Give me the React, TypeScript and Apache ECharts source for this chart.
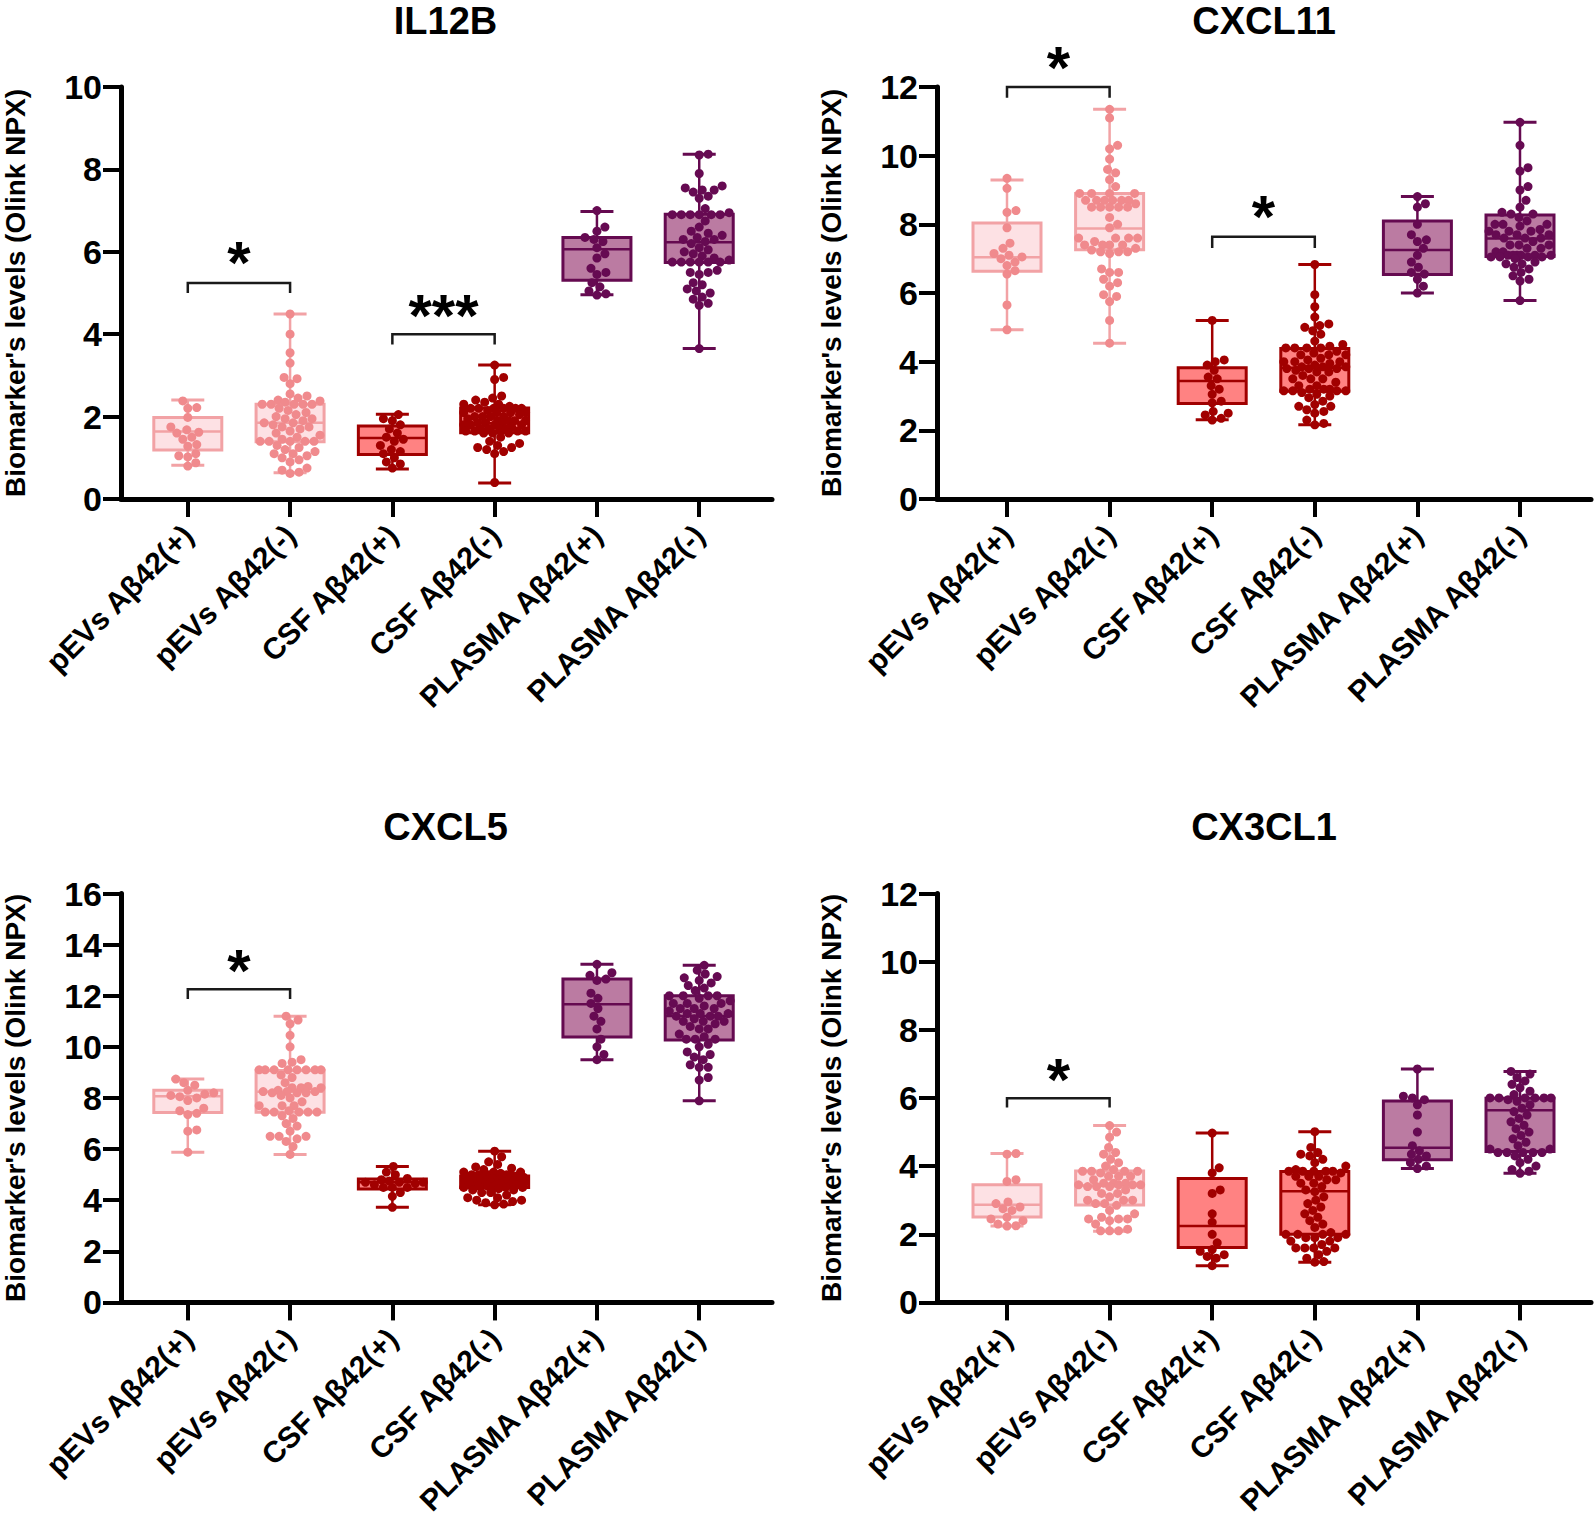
import React, { useEffect, useRef } from 'react';
import * as echarts from 'echarts';

// ---------- categories / labels ----------
const CATEGORIES = ['pEVs Aβ42(+)', 'pEVs Aβ42(-)', 'CSF Aβ42(+)', 'CSF Aβ42(-)', 'PLASMA Aβ42(+)', 'PLASMA Aβ42(-)'];
const TITLES = ['IL12B', 'CXCL11', 'CXCL5', 'CX3CL1'];
const Y_NAME = "Biomarker's levels (Olink NPX)";
const Y_MAX = [10, 12, 16, 12];
const TICK_INDEX = [0, 1, 2, 3, 4, 5];

// ---------- box statistics [min, Q1, median, Q3, max] ----------
const il12bBox = [[0.82, 1.19, 1.64, 1.98, 2.40], [0.64, 1.39, 1.85, 2.30, 4.49], [0.73, 1.08, 1.48, 1.77, 2.06], [0.39, 1.61, 1.84, 2.21, 3.25], [4.96, 5.31, 6.06, 6.35, 6.98], [3.65, 5.74, 6.23, 6.91, 8.37]];
const cxcl11Box = [[4.93, 6.63, 7.04, 8.04, 9.29], [4.54, 7.26, 7.88, 8.90, 11.35], [2.31, 2.78, 3.44, 3.82, 5.20], [2.16, 3.14, 3.82, 4.38, 6.83], [6.00, 6.54, 7.25, 8.10, 8.81], [5.78, 7.06, 7.59, 8.27, 10.97]];
const cxcl5Box = [[5.88, 7.43, 8.07, 8.30, 8.74], [5.79, 7.44, 8.24, 9.07, 11.20], [3.72, 4.44, 4.70, 4.83, 5.32], [3.82, 4.50, 4.76, 4.95, 5.92], [9.50, 10.39, 11.67, 12.65, 13.23], [7.89, 10.27, 11.21, 12.00, 13.19]];
const cx3cl1Box = [[2.24, 2.51, 2.87, 3.45, 4.37], [2.09, 2.86, 3.43, 3.86, 5.19], [1.08, 1.61, 2.24, 3.64, 4.97], [1.18, 2.00, 3.26, 3.84, 5.01], [3.93, 4.19, 4.54, 5.91, 6.85], [3.79, 4.43, 5.64, 5.99, 6.78]];

// ---------- individual points ----------
const il12bPevsPos = [2.38, 2.22, 2.2, 1.98, 1.75, 1.68, 1.62, 1.6, 1.5, 1.45, 1.32, 1.28, 1.1, 1.05, 1.02, 0.88, 0.8];
const il12bPevsNeg = [4.49, 4.0, 3.55, 3.3, 2.95, 2.92, 2.8, 2.55, 2.5, 2.45, 2.4, 2.38, 2.35, 2.3, 2.3, 2.3, 2.3, 2.3, 2.2, 2.15, 2.1, 2.05, 2.0, 1.95, 1.95, 1.9, 1.85, 1.85, 1.8, 1.75, 1.75, 1.7, 1.65, 1.6, 1.55, 1.5, 1.45, 1.4, 1.4, 1.4, 1.4, 1.4, 1.3, 1.25, 1.2, 1.15, 1.1, 1.1, 1.05, 1.0, 0.95, 0.9, 0.75, 0.7, 0.65, 0.62];
const il12bCsfPos = [2.05, 1.95, 1.9, 1.8, 1.7, 1.6, 1.5, 1.45, 1.4, 1.3, 1.2, 1.15, 1.1, 1.0, 0.9, 0.85, 0.75];
const il12bCsfNeg = [3.25, 2.95, 2.9, 2.5, 2.45, 2.4, 2.35, 2.3, 2.3, 2.25, 2.2, 2.2, 2.2, 2.2, 2.2, 2.2, 2.15, 2.1, 2.1, 2.1, 2.1, 2.05, 2.0, 2.0, 2.0, 2.0, 1.95, 1.9, 1.9, 1.9, 1.9, 1.85, 1.85, 1.85, 1.8, 1.8, 1.8, 1.8, 1.75, 1.7, 1.7, 1.7, 1.7, 1.65, 1.65, 1.65, 1.65, 1.6, 1.6, 1.6, 1.5, 1.4, 1.35, 1.3, 1.25, 1.25, 1.2, 1.15, 1.1, 0.4];
const il12bPlasmaPos = [7.0, 6.6, 6.5, 6.35, 6.3, 6.25, 6.1, 5.95, 5.85, 5.6, 5.5, 5.45, 5.25, 5.15, 5.05, 4.98, 4.95];
const il12bPlasmaNeg = [8.37, 8.35, 7.9, 7.6, 7.55, 7.5, 7.5, 7.45, 7.35, 7.3, 7.05, 6.95, 6.9, 6.9, 6.9, 6.9, 6.9, 6.9, 6.75, 6.6, 6.5, 6.45, 6.4, 6.35, 6.3, 6.3, 6.25, 6.2, 6.1, 6.05, 6.0, 5.95, 5.9, 5.85, 5.8, 5.75, 5.75, 5.75, 5.75, 5.75, 5.75, 5.55, 5.5, 5.5, 5.45, 5.25, 5.2, 5.1, 5.05, 5.0, 4.9, 4.85, 4.75, 4.7, 3.65];

const cxcl11PevsPos = [9.34, 9.05, 8.4, 8.35, 7.9, 7.45, 7.3, 7.15, 7.1, 7.05, 7.0, 6.9, 6.8, 6.65, 6.55, 5.65, 4.93];
const cxcl11PevsNeg = [11.35, 11.1, 10.3, 10.2, 9.9, 9.6, 9.5, 9.3, 9.1, 8.9, 8.9, 8.9, 8.9, 8.7, 8.7, 8.7, 8.7, 8.7, 8.7, 8.6, 8.5, 8.5, 8.5, 8.5, 8.5, 8.2, 8.0, 7.9, 7.6, 7.6, 7.6, 7.6, 7.5, 7.4, 7.4, 7.4, 7.4, 7.3, 7.25, 7.2, 7.2, 7.2, 7.15, 6.7, 6.6, 6.6, 6.4, 6.3, 6.2, 5.95, 5.9, 5.75, 5.2, 4.54];
const cxcl11CsfPos = [5.2, 4.05, 4.0, 3.9, 3.75, 3.55, 3.5, 3.3, 3.2, 3.05, 2.85, 2.8, 2.55, 2.5, 2.45, 2.35, 2.3];
const cxcl11CsfNeg = [6.83, 5.95, 5.6, 5.3, 5.1, 5.05, 5.0, 4.9, 4.8, 4.6, 4.5, 4.45, 4.4, 4.4, 4.4, 4.4, 4.3, 4.25, 4.2, 4.2, 4.2, 4.1, 4.05, 4.0, 4.0, 4.0, 3.95, 3.9, 3.85, 3.85, 3.85, 3.8, 3.8, 3.8, 3.75, 3.7, 3.7, 3.6, 3.5, 3.5, 3.5, 3.4, 3.3, 3.3, 3.2, 3.2, 3.2, 3.15, 3.15, 3.15, 3.15, 3.1, 3.05, 3.0, 2.95, 2.85, 2.75, 2.7, 2.7, 2.6, 2.55, 2.5, 2.3, 2.2, 2.16];
const cxcl11PlasmaPos = [8.81, 8.6, 8.5, 8.0, 7.7, 7.55, 7.5, 7.3, 7.1, 6.9, 6.75, 6.6, 6.55, 6.4, 6.2, 6.0];
const cxcl11PlasmaNeg = [10.97, 10.3, 9.65, 9.55, 9.1, 9.0, 8.7, 8.5, 8.35, 8.3, 8.3, 8.2, 8.1, 8.0, 8.0, 8.0, 7.95, 7.85, 7.8, 7.8, 7.8, 7.7, 7.7, 7.7, 7.6, 7.6, 7.6, 7.5, 7.4, 7.4, 7.4, 7.3, 7.3, 7.2, 7.2, 7.1, 7.1, 7.1, 7.1, 7.1, 7.1, 7.05, 7.05, 7.05, 7.05, 7.0, 6.9, 6.85, 6.85, 6.75, 6.7, 6.6, 6.5, 6.4, 6.35, 5.78];

const cxcl5PevsPos = [8.74, 8.6, 8.5, 8.3, 8.2, 8.15, 8.1, 8.05, 8.0, 7.9, 7.6, 7.5, 7.4, 7.35, 6.75, 6.7, 5.88];
const cxcl5PevsNeg = [11.2, 11.05, 10.9, 10.45, 10.0, 9.5, 9.4, 9.35, 9.1, 9.1, 9.1, 9.1, 9.1, 9.1, 9.1, 9.1, 8.9, 8.8, 8.6, 8.45, 8.4, 8.4, 8.4, 8.3, 8.25, 8.25, 8.25, 8.2, 8.2, 8.2, 8.1, 8.0, 7.85, 7.7, 7.7, 7.7, 7.5, 7.45, 7.45, 7.45, 7.45, 7.45, 7.3, 7.2, 7.0, 6.9, 6.7, 6.5, 6.5, 6.5, 6.4, 6.3, 6.1, 5.79];
const cxcl5CsfPos = [5.32, 5.1, 5.0, 4.85, 4.8, 4.75, 4.7, 4.7, 4.7, 4.65, 4.6, 4.5, 4.5, 4.5, 4.3, 4.15, 3.72];
const cxcl5CsfNeg = [5.92, 5.7, 5.5, 5.4, 5.3, 5.25, 5.2, 5.1, 5.1, 5.1, 5.05, 5.0, 5.0, 5.0, 5.0, 4.95, 4.95, 4.95, 4.9, 4.9, 4.9, 4.85, 4.85, 4.85, 4.8, 4.8, 4.8, 4.8, 4.75, 4.75, 4.75, 4.75, 4.7, 4.7, 4.7, 4.7, 4.65, 4.65, 4.65, 4.6, 4.6, 4.6, 4.55, 4.55, 4.55, 4.5, 4.5, 4.5, 4.45, 4.4, 4.4, 4.3, 4.3, 4.2, 4.1, 4.1, 4.0, 4.0, 3.95, 3.9, 3.85, 3.82];
const cxcl5PlasmaPos = [13.23, 12.9, 12.8, 12.65, 12.6, 12.1, 11.9, 11.7, 11.5, 11.2, 11.0, 10.7, 10.3, 10.0, 9.7, 9.5];
const cxcl5PlasmaNeg = [13.19, 13.0, 12.85, 12.75, 12.7, 12.6, 12.5, 12.4, 12.3, 12.2, 12.0, 12.0, 12.0, 12.0, 11.9, 11.8, 11.7, 11.7, 11.7, 11.6, 11.5, 11.5, 11.5, 11.4, 11.3, 11.3, 11.3, 11.2, 11.2, 11.2, 11.1, 11.0, 11.0, 11.0, 10.9, 10.8, 10.7, 10.7, 10.5, 10.4, 10.3, 10.3, 10.3, 10.1, 10.0, 9.8, 9.7, 9.6, 9.5, 9.3, 9.2, 9.2, 8.8, 8.7, 7.89];

const cx3cl1PevsPos = [4.37, 4.35, 3.6, 3.55, 2.95, 2.9, 2.8, 2.75, 2.7, 2.5, 2.45, 2.4, 2.3, 2.25, 2.24];
const cx3cl1PevsNeg = [5.19, 5.0, 4.85, 4.55, 4.4, 4.35, 4.2, 4.1, 4.0, 3.9, 3.85, 3.85, 3.85, 3.85, 3.8, 3.7, 3.7, 3.7, 3.6, 3.5, 3.5, 3.5, 3.45, 3.45, 3.45, 3.45, 3.4, 3.4, 3.4, 3.3, 3.2, 3.2, 3.1, 3.0, 3.0, 3.0, 2.9, 2.9, 2.85, 2.7, 2.6, 2.5, 2.45, 2.45, 2.45, 2.4, 2.3, 2.15, 2.1, 2.1, 2.1];
const cx3cl1CsfPos = [4.97, 3.95, 3.8, 3.3, 3.2, 2.6, 2.35, 2.0, 1.75, 1.55, 1.5, 1.4, 1.35, 1.3, 1.08];
const cx3cl1CsfNeg = [5.01, 4.55, 4.4, 4.35, 4.3, 4.2, 4.1, 4.0, 3.9, 3.85, 3.85, 3.85, 3.85, 3.85, 3.8, 3.7, 3.7, 3.7, 3.6, 3.6, 3.5, 3.5, 3.4, 3.3, 3.25, 3.1, 3.0, 2.9, 2.8, 2.7, 2.6, 2.5, 2.4, 2.3, 2.2, 2.05, 2.0, 2.0, 2.0, 2.0, 1.9, 1.9, 1.9, 1.8, 1.8, 1.7, 1.6, 1.6, 1.6, 1.6, 1.5, 1.4, 1.3, 1.2, 1.18];
const cx3cl1PlasmaPos = [6.85, 6.05, 6.0, 5.95, 5.8, 5.5, 5.0, 4.6, 4.45, 4.35, 4.3, 4.2, 4.1, 4.0, 3.93];
const cx3cl1PlasmaNeg = [6.78, 6.7, 6.6, 6.5, 6.4, 6.3, 6.2, 6.1, 6.0, 6.0, 6.0, 6.0, 6.0, 6.0, 5.95, 5.9, 5.8, 5.7, 5.6, 5.5, 5.4, 5.3, 5.2, 5.1, 5.0, 4.9, 4.8, 4.7, 4.6, 4.5, 4.5, 4.4, 4.4, 4.4, 4.4, 4.4, 4.3, 4.2, 4.1, 4.0, 3.9, 3.85, 3.79];

// ---------- significance brackets [fromIndex, toIndex, barValue, legValue, starValue] ----------
const il12bSig = [[0, 1, 5.24, 5.0, 5.93], [2, 3, 4.0, 3.75, 4.64]];
const il12bSigText = ['*', '***'];
const cxcl11Sig = [[0, 1, 12.0, 11.69, 12.8], [2, 3, 7.64, 7.31, 8.45]];
const cxcl11SigText = ['*', '*'];
const cxcl5Sig = [[0, 1, 12.25, 11.87, 13.3]];
const cxcl5SigText = ['*'];
const cx3cl1Sig = [[0, 1, 5.99, 5.72, 6.78]];
const cx3cl1SigText = ['*'];

const PANEL_DATA = [
  { box: il12bBox, points: [il12bPevsPos, il12bPevsNeg, il12bCsfPos, il12bCsfNeg, il12bPlasmaPos, il12bPlasmaNeg], sig: il12bSig, sigText: il12bSigText },
  { box: cxcl11Box, points: [cxcl11PevsPos, cxcl11PevsNeg, cxcl11CsfPos, cxcl11CsfNeg, cxcl11PlasmaPos, cxcl11PlasmaNeg], sig: cxcl11Sig, sigText: cxcl11SigText },
  { box: cxcl5Box, points: [cxcl5PevsPos, cxcl5PevsNeg, cxcl5CsfPos, cxcl5CsfNeg, cxcl5PlasmaPos, cxcl5PlasmaNeg], sig: cxcl5Sig, sigText: cxcl5SigText },
  { box: cx3cl1Box, points: [cx3cl1PevsPos, cx3cl1PevsNeg, cx3cl1CsfPos, cx3cl1CsfNeg, cx3cl1PlasmaPos, cx3cl1PlasmaNeg], sig: cx3cl1Sig, sigText: cx3cl1SigText },
];

// ---------- layout / style ----------
const FONT = 'Arial, "Liberation Sans", Helvetica, sans-serif';
const UNIT_PX = 102.6;
const LAYOUT = [
  { left: 119, top: 87, width: 653, height: 412, firstTick: 67, titleY: 21 },
  { left: 937, top: 87, width: 654, height: 412, firstTick: 70, titleY: 21 },
  { left: 119, top: 893.5, width: 653, height: 414, firstTick: 67, titleY: 827 },
  { left: 937, top: 893.5, width: 654, height: 414, firstTick: 70, titleY: 827 },
];
const PEVS = { fill: '#FDE1E4', stroke: '#F2A2A5', point: '#F08A8D' };
const CSF = { fill: '#FF8282', stroke: '#A00000', point: '#A10000' };
const PLASMA = { fill: '#BB7BA2', stroke: '#650A50', point: '#660A52' };
const GROUP_STYLE = [PEVS, PEVS, CSF, CSF, PLASMA, PLASMA];
const BOX_HALF = 34;
const CAP_HALF = 16.5;
const DOT = 9;

function swarm(vals: number[], pxPerY: number, dot: number, maxHalf: number): number[] {
  const idx = vals.map((_, i) => i).sort((a, b) => vals[a] - vals[b]);
  const placed: { x: number; y: number }[] = [];
  const out: number[] = new Array(vals.length).fill(0);
  const cands: number[] = [0];
  for (let s = 1; s <= maxHalf; s++) cands.push(s, -s);
  for (const i of idx) {
    const y = vals[i] * pxPerY;
    let best = 0;
    let bestScore = -Infinity;
    for (const c of cands) {
      let minD = Infinity;
      for (const p of placed) {
        const dy = p.y - y;
        if (Math.abs(dy) >= dot) continue;
        const d = Math.hypot(p.x - c, dy);
        if (d < minD) minD = d;
      }
      if (minD >= dot) { best = c; bestScore = minD; break; }
      if (minD > bestScore + 0.5) { bestScore = minD; best = c; }
    }
    placed.push({ x: best, y });
    out[i] = best;
  }
  return out;
}

export default function App() {
  const ref = useRef<HTMLDivElement>(null);
  useEffect(() => {
    const chart = echarts.init(ref.current as HTMLDivElement, undefined, { renderer: 'svg' });
    const grids: any[] = [];
    const xAxes: any[] = [];
    const yAxes: any[] = [];
    const series: any[] = [];
    const graphics: any[] = [];

    LAYOUT.forEach((L, pi) => {
      const xmin = -L.firstTick / UNIT_PX;
      const xmax = xmin + L.width / UNIT_PX;
      const ymax = Y_MAX[pi];
      const pd = PANEL_DATA[pi];
      grids.push({ left: L.left, top: L.top, width: L.width, height: L.height, containLabel: false });
      xAxes.push({
        gridIndex: pi, type: 'value', min: xmin, max: xmax,
        axisLine: { show: true, onZero: false, lineStyle: { color: '#000', width: 5 } },
        axisTick: { show: true, customValues: TICK_INDEX, length: 18, lineStyle: { color: '#000', width: 4 } },
        axisLabel: {
          show: true, customValues: TICK_INDEX, formatter: (v: number) => CATEGORIES[Math.round(v)] || '',
          rotate: 45, fontSize: 30, fontWeight: 'bold', color: '#000', fontFamily: FONT, margin: 31,
        },
        splitLine: { show: false },
      });
      yAxes.push({
        gridIndex: pi, type: 'value', min: 0, max: ymax, interval: 2,
        name: Y_NAME, nameLocation: 'middle', nameGap: 92,
        nameTextStyle: { fontSize: 28, fontWeight: 'bold', color: '#000', fontFamily: FONT },
        axisLine: { show: true, onZero: false, lineStyle: { color: '#000', width: 5 } },
        axisTick: { show: true, length: 18, lineStyle: { color: '#000', width: 4 } },
        axisLabel: { fontSize: 34, fontWeight: 'bold', color: '#000', fontFamily: FONT, margin: 19 },
        splitLine: { show: false },
      });

      // boxes
      series.push({
        type: 'custom', xAxisIndex: pi, yAxisIndex: pi, z: 2,
        data: pd.box.map((b, i) => [i, ...b]),
        encode: { x: 0, y: [1, 2, 3, 4, 5] },
        renderItem: (_params: any, api: any) => {
          const gi = api.value(0);
          const st = GROUP_STYLE[gi];
          const pMin = api.coord([gi, api.value(1)]);
          const pQ1 = api.coord([gi, api.value(2)]);
          const pMed = api.coord([gi, api.value(3)]);
          const pQ3 = api.coord([gi, api.value(4)]);
          const pMax = api.coord([gi, api.value(5)]);
          const cx = pMed[0];
          const line = (x1: number, y1: number, x2: number, y2: number, w: number) => ({
            type: 'line', shape: { x1, y1, x2, y2 }, style: { stroke: st.stroke, lineWidth: w },
          });
          return {
            type: 'group',
            children: [
              line(cx, pQ1[1], cx, pMin[1], 2.5),
              line(cx, pQ3[1], cx, pMax[1], 2.5),
              line(cx - CAP_HALF, pMin[1], cx + CAP_HALF, pMin[1], 3),
              line(cx - CAP_HALF, pMax[1], cx + CAP_HALF, pMax[1], 3),
              {
                type: 'rect',
                shape: { x: cx - BOX_HALF, y: pQ3[1], width: 2 * BOX_HALF, height: pQ1[1] - pQ3[1] },
                style: { fill: st.fill, stroke: st.stroke, lineWidth: 3 },
              },
              line(cx - BOX_HALF, pMed[1], cx + BOX_HALF, pMed[1], 2.5),
            ],
          };
        },
      });

      // points
      const pxPerY = L.height / ymax;
      pd.points.forEach((vals, gi) => {
        const offs = swarm(vals, pxPerY, DOT - 0.5, BOX_HALF - 3);
        series.push({
          type: 'scatter', xAxisIndex: pi, yAxisIndex: pi, z: 3,
          symbol: 'circle', symbolSize: DOT,
          itemStyle: { color: GROUP_STYLE[gi].point, opacity: 1 },
          data: vals.map((v, j) => [gi + offs[j] / UNIT_PX, v]),
        });
      });

      // significance brackets
      series.push({
        type: 'custom', xAxisIndex: pi, yAxisIndex: pi, z: 4, clip: false,
        data: pd.sig.map((s, i) => [...s, i]),
        encode: { x: [0, 1], y: [2, 3, 4] },
        renderItem: (_params: any, api: any) => {
          const from = api.value(0);
          const to = api.value(1);
          const pA = api.coord([from, api.value(2)]);
          const pB = api.coord([to, api.value(2)]);
          const legY = api.coord([from, api.value(3)])[1];
          const pS = api.coord([(from + to) / 2, api.value(4)]);
          const text = pd.sigText[api.value(5)];
          return {
            type: 'group',
            children: [
              {
                type: 'polyline',
                shape: { points: [[pA[0], legY], [pA[0], pA[1]], [pB[0], pB[1]], [pB[0], legY]] },
                style: { stroke: '#1a1a1a', lineWidth: 2.5, fill: 'none' },
              },
              {
                type: 'text', x: pS[0], y: pS[1] + 8,
                style: { text, fill: '#000', fontSize: 60, fontWeight: 'bold', fontFamily: FONT, align: 'center', verticalAlign: 'middle' },
              },
            ],
          };
        },
      });

      graphics.push({
        type: 'text', x: L.left + L.width / 2, y: L.titleY,
        style: { text: TITLES[pi], fill: '#000', fontSize: 38, fontWeight: 'bold', fontFamily: FONT, align: 'center', verticalAlign: 'middle' },
      });
    });

    chart.setOption({
      animation: false,
      backgroundColor: '#fff',
      grid: grids,
      xAxis: xAxes,
      yAxis: yAxes,
      series,
      graphic: graphics,
    });
    return () => chart.dispose();
  }, []);
  return <div ref={ref} style={{ position: 'absolute', left: 0, top: 0, width: 1594, height: 1520 }} />;
}
